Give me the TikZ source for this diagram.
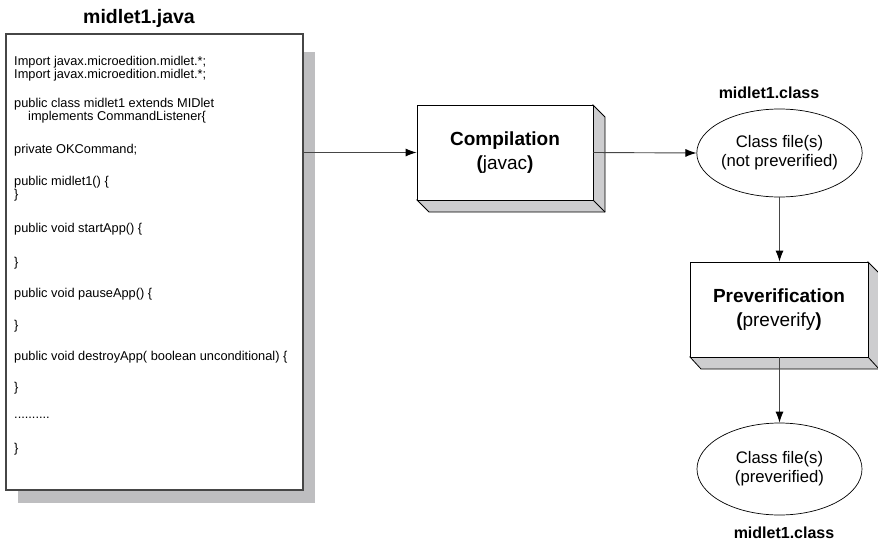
\documentclass[tikz,border=0pt]{standalone}
\usepackage{fontspec}
\setmainfont{Liberation Sans}
\usetikzlibrary{arrows.meta,shapes.geometric}
\definecolor{shadowgray}{RGB}{190,190,192}
\definecolor{facegray}{RGB}{205,205,207}
\definecolor{linegray}{RGB}{70,70,70}
\tikzset{
  codeline/.style={anchor=west,inner sep=0pt,font=\fontsize{12.8}{14}\selectfont},
  boxtitle/.style={font=\bfseries\fontsize{19.5}{22}\selectfont,inner sep=0pt},
  filelabel/.style={font=\bfseries\fontsize{16}{18}\selectfont,inner sep=0pt},
  stepbox/.style={draw=black,line width=0.8pt,fill=white,rectangle,inner sep=0pt,
    align=center,font=\fontsize{19}{24}\selectfont},
  face/.style={fill=facegray,draw=black,line width=0.8pt,line join=miter},
  fileoval/.style={draw=black,line width=0.7pt,ellipse,inner sep=0pt,align=center,
    font=\fontsize{16.7}{19}\selectfont},
  flow/.style={draw=linegray,line width=0.9pt,-{Latex[length=11pt,width=8pt,color=black]}}
}
\begin{document}
\begin{tikzpicture}[x=1pt,y=-1pt]
\useasboundingbox (0,0) rectangle (878,541);

% source file
\fill[shadowgray] (18,52) rectangle (315,503);
\node[draw=linegray,line width=1.5pt,fill=white,rectangle,anchor=north west,
      minimum width=297pt,minimum height=456pt,inner sep=0pt] (code) at (5,33) {};
\node[boxtitle] (codetitle) at (139,18) {midlet1.java};

\node[codeline] (l1) at (14,62) {Import javax.microedition.midlet.*;};
\node[codeline] (l2) at (14,75.5) {Import javax.microedition.midlet.*;};
\node[codeline] (l3) at (14,104) {public class midlet1 extends MIDlet};
\node[codeline] (l4) at (28,117.5) {implements CommandListener\{};
\node[codeline] (l5) at (14,150) {private OKCommand;};
\node[codeline] (l6) at (14,182) {public midlet1() \{};
\node[codeline] (l7) at (14,195.5) {\}};
\node[codeline] (l8) at (14,229) {public void startApp() \{};
\node[codeline] (l9) at (14,263) {\}};
\node[codeline] (l10) at (14,294.5) {public void pauseApp() \{};
\node[codeline] (l11) at (14,326) {\}};
\node[codeline] (l12) at (14,357) {public void destroyApp( boolean unconditional) \{};
\node[codeline] (l13) at (14,388) {\}};
\node[codeline] (l14) at (14,418) {..........};
\node[codeline] (l15) at (14,449) {\}};

% compilation box
\coordinate (compc) at (505,152.5);
\path[face] (593,105) -- (605,117) -- (605,212) -- (429,212) -- (417,200) -- (593,200) -- cycle;
\draw[black,line width=0.8pt] (593,200) -- (605,212);
\node[stepbox,minimum width=176pt,minimum height=95pt] (comp) at (compc)
  {\textbf{Compilation}\\\textbf{(}javac\textbf{)}};

% not preverified class files
\node[fileoval,minimum width=165pt,minimum height=88pt] (cls1) at (779.5,153)
  {Class file(s)\\(not preverified)};
\node[filelabel] (cls1lab) at (769,93) {midlet1.class};

% preverification box
\path[face] (868,262) -- (879,273) -- (879,369) -- (701,369) -- (690,357) -- (868,357) -- cycle;
\draw[black,line width=0.8pt] (868,357) -- (879,369);
\node[stepbox,minimum width=178pt,minimum height=95pt] (prev) at (779,309.5)
  {\textbf{Preverification}\\\textbf{(}preverify\textbf{)}};

% preverified class files
\node[fileoval,minimum width=165pt,minimum height=92pt] (cls2) at (779.5,469)
  {Class file(s)\\(preverified)};
\node[filelabel] (cls2lab) at (784,533) {midlet1.class};

% connectors
\draw[flow] (code.east |- comp.west) -- (comp.west);
\draw[flow] (comp.east) -- (cls1.west);
\draw[flow] (cls1.south) -- (cls1.south |- prev.north);
\draw[flow] (prev.south -| cls2.north) -- (cls2.north);
\end{tikzpicture}
\end{document}
